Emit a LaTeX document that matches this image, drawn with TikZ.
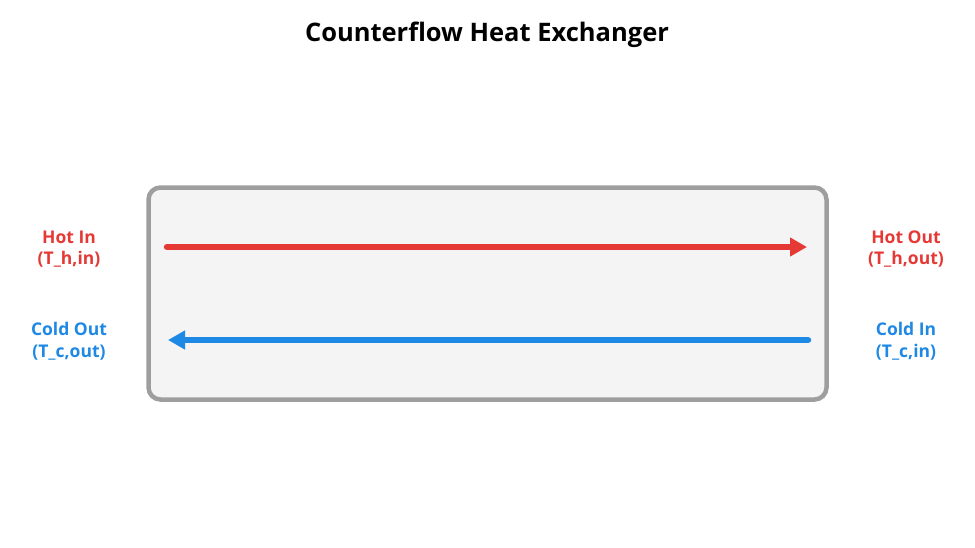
\documentclass[tikz,border=0pt]{standalone}
\usepackage{fontspec}
\setmainfont{Open Sans}
\usetikzlibrary{arrows.meta}
\definecolor{hot}{HTML}{E53935}
\definecolor{cold}{HTML}{1E88E5}
\definecolor{boxedge}{HTML}{9E9E9E}
\definecolor{boxfill}{HTML}{F4F4F4}
\tikzset{
  lbl/.style={align=center, font=\fontsize{17.5}{21.5}\selectfont\bfseries, inner sep=0pt},
  flow/.style={line width=6.5pt, line cap=round, -{Triangle[length=17pt,width=18pt]}},
}
\begin{document}
\begin{tikzpicture}[x=1pt,y=-1pt]
\useasboundingbox (0,0) rectangle (975,547);
\node[font=\fontsize{25.5}{30}\selectfont\bfseries] (title) at (487,35) {Counterflow Heat Exchanger};
\node[draw=boxedge, fill=boxfill, line width=4.5pt, rounded corners=12pt, minimum width=678pt, minimum height=212pt, inner sep=0pt] (hx) at (487.5,293.5) {};
\coordinate (hin) at (167,247);
\coordinate (hout) at (807,247);
\coordinate (cin) at (808,340);
\coordinate (cout) at (168,340);
\draw[flow, hot] (hin) -- (hout);
\draw[flow, cold] (cin) -- (cout);
\node[lbl, text=hot] (l1) at (69,249) {Hot In\\(T\_h,in)};
\node[lbl, text=hot] (l2) at (906,249) {Hot Out\\(T\_h,out)};
\node[lbl, text=cold] (l3) at (69,341) {Cold Out\\(T\_c,out)};
\node[lbl, text=cold] (l4) at (906,341) {Cold In\\(T\_c,in)};
\end{tikzpicture}
\end{document}
